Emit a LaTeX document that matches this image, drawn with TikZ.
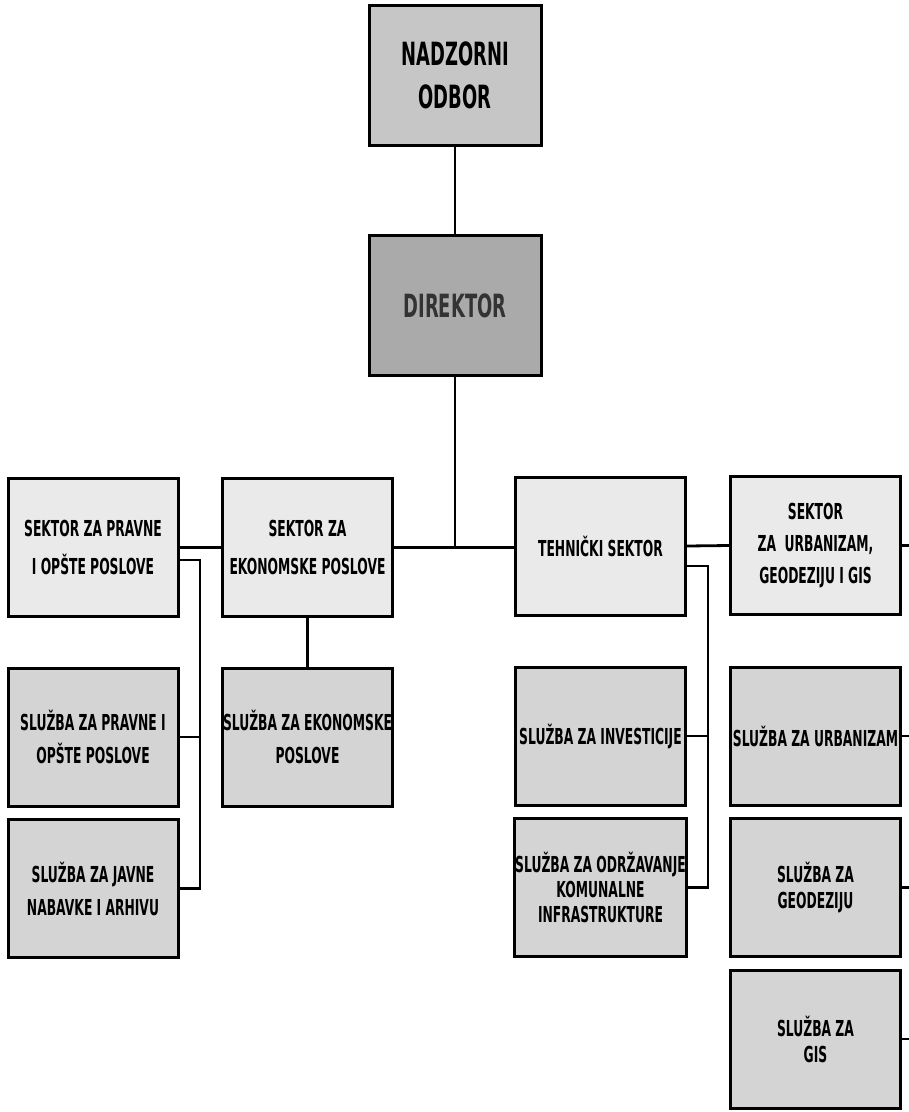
\documentclass[tikz,border=0pt]{standalone}
\usepackage{fontspec}
\setmainfont{DejaVu Sans}[FakeStretch=0.56]
\usepackage{tikz}
\tikzset{every picture/.style={line width=2.8pt}}
\tikzset{
  orgbox/.style={draw=black, line width=3pt, inner sep=1pt, align=center,
    font=\bfseries\fontsize{22}{33}\selectfont},
  topbox/.style={orgbox, fill={rgb,255:red,198;green,198;blue,198},
    minimum width=172pt, minimum height=140pt, font=\bfseries\fontsize{32}{43}\selectfont},
  headbox/.style={topbox, fill={rgb,255:red,170;green,170;blue,170}, text=black!80},
  sektorbox/.style={orgbox, fill={rgb,255:red,234;green,234;blue,234},
    minimum width=170pt, minimum height=138pt},
  sluzbabox/.style={orgbox, fill={rgb,255:red,212;green,212;blue,212},
    minimum width=170pt, minimum height=138pt}
}

\begin{document}
\begin{tikzpicture}[x=1pt,y=1pt,yscale=-1,xscale=1]
\useasboundingbox (0,0) rectangle (909,1112);

% Uprava
\node [topbox] (odbor) at (455,75) {NADZORNI\\ODBOR};
\node [headbox] (direktor) at (455,305.5) {DIREKTOR};

% Sektori
\node [sektorbox, font=\bfseries\fontsize{22}{38}\selectfont] (pravne) at (93,547.5) {SEKTOR ZA PRAVNE\\I OPŠTE POSLOVE};
\node [sektorbox, font=\bfseries\fontsize{22}{38}\selectfont] (ekonomske) at (307.5,547.5) {SEKTOR ZA\\EKONOMSKE POSLOVE};
\node [sektorbox] (tehnicki) at (600.5,546) {TEHNIČKI SEKTOR};
\node [sektorbox, font=\bfseries\fontsize{22}{32}\selectfont] (urbanizam) at (815.5,545.5) {SEKTOR\\ZA\ \ URBANIZAM,\\GEODEZIJU I GIS};

% Sluzbe
\node [sluzbabox] (slpravne) at (93,737) {SLUŽBA ZA PRAVNE I\\OPŠTE POSLOVE};
\node [sluzbabox] (sljavne) at (93,888.5) {SLUŽBA ZA JAVNE\\NABAVKE I ARHIVU};
\node [sluzbabox] (slekonomske) at (307.5,737) {SLUŽBA ZA EKONOMSKE\\POSLOVE};
\node [sluzbabox] (investicije) at (600.5,736) {SLUŽBA ZA INVESTICIJE};
\node [sluzbabox, font=\bfseries\fontsize{22}{25}\selectfont] (odrzavanje) at (600.5,887.5) {SLUŽBA ZA ODRŽAVANJE\\KOMUNALNE\\INFRASTRUKTURE};
\node [sluzbabox] (slurbanizam) at (815.5,736) {SLUŽBA ZA URBANIZAM};
\node [sluzbabox, font=\bfseries\fontsize{22}{26}\selectfont] (geodeziju) at (815.5,887.5) {SLUŽBA ZA\\GEODEZIJU};
\node [sluzbabox, font=\bfseries\fontsize{22}{26}\selectfont] (gis) at (815.5,1039) {SLUŽBA ZA\\GIS};

% Veze
\coordinate (lbranch) at (200,560);
\coordinate (rbranch) at (708,566);
\coordinate (rim) at (909,0);
\draw (odbor) -- (direktor);
\draw (direktor.south) -- (direktor.south |- ekonomske.east);
\draw (pravne.east) -- (ekonomske.west);
\draw (ekonomske.east) -- (tehnicki.west |- ekonomske.east);
\draw (tehnicki.east) -- (urbanizam.west);
\draw (urbanizam.east) -- (urbanizam.east -| rim);
\draw (ekonomske.south) -- (slekonomske.north);
\draw (pravne.east |- lbranch) -- (lbranch) |- (sljavne.east);
\draw (slpravne.east) -- (slpravne.east -| lbranch);
\draw (tehnicki.east |- rbranch) -- (rbranch) |- (odrzavanje.east);
\draw (investicije.east) -- (investicije.east -| rbranch);
\draw (slurbanizam.east) -- (slurbanizam.east -| rim);
\draw (geodeziju.east) -- (geodeziju.east -| rim);
\draw (gis.east) -- (gis.east -| rim);

\end{tikzpicture}
\end{document}
